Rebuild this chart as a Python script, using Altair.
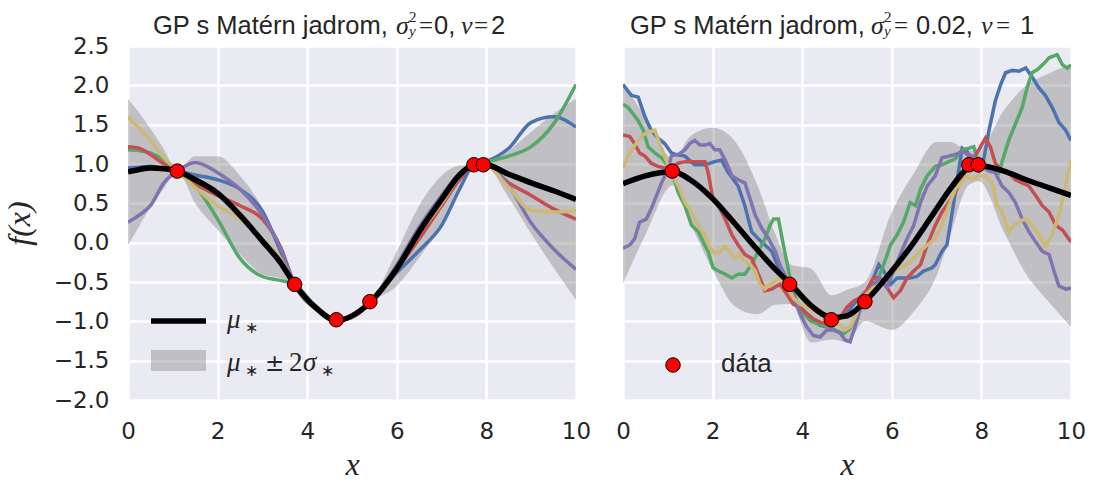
import altair as alt
import pandas as pd

# ---------------- data ----------------
obs_x = [1.1, 3.72, 4.65, 5.4, 7.72, 7.93]
obs_y = [0.91, -0.53, -0.98, -0.75, 0.99, 0.99]

# left panel (smooth, nu=2, noise 0)
left_x = [0, 0.25, 0.5, 0.8, 1.1, 1.5, 2.0, 2.5, 3.0, 3.4, 3.72, 4.2, 4.65, 5.0, 5.4,
          6.0, 6.5, 7.0, 7.4, 7.72, 7.93, 8.5, 9.0, 9.5, 10]
left_mean = [0.9, 0.93, 0.95, 0.94, 0.91, 0.8, 0.63, 0.35, 0.02, -0.25, -0.53, -0.83, -0.99,
             -0.93, -0.76, -0.33, 0.14, 0.55, 0.86, 0.99, 1.0, 0.87, 0.76, 0.66, 0.55]
left_hw = [0.93, 0.72, 0.5, 0.25, 0.0, 0.3, 0.47, 0.5, 0.42, 0.2, 0.0, 0.05, 0.0, 0.03, 0.0,
           0.22, 0.33, 0.3, 0.12, 0.0, 0.0, 0.3, 0.65, 0.98, 1.28]
left_blue = [0.95, 0.96, 0.97, 0.94, 0.91, 0.86, 0.8, 0.68, 0.4, -0.1, -0.53, -0.84, -0.99,
             -0.94, -0.76, -0.38, -0.1, 0.22, 0.68, 0.99, 1.02, 1.2, 1.53, 1.6, 1.47]
left_green = [1.18, 1.17, 1.14, 1.05, 0.91, 0.72, 0.3, -0.2, -0.43, -0.48, -0.53, -0.82, -0.99,
              -0.94, -0.76, -0.3, 0.13, 0.5, 0.83, 0.99, 1.02, 1.1, 1.22, 1.51, 2.01]
left_red = [1.22, 1.2, 1.12, 1.0, 0.91, 0.75, 0.6, 0.47, 0.3, -0.05, -0.53, -0.85, -0.99,
            -0.95, -0.76, -0.34, 0.05, 0.47, 0.8, 0.99, 1.0, 0.76, 0.6, 0.43, 0.3]
left_purple = [0.26, 0.35, 0.47, 0.76, 0.91, 1.02, 0.89, 0.68, 0.35, -0.06, -0.53, -0.85, -0.99,
               -0.95, -0.76, -0.28, 0.2, 0.6, 0.88, 0.99, 1.0, 0.72, 0.25, -0.08, -0.34]
left_yellow = [1.6, 1.45, 1.3, 1.08, 0.91, 0.7, 0.47, 0.3, 0.05, -0.2, -0.53, -0.85, -0.99,
               -0.95, -0.76, -0.3, 0.12, 0.5, 0.84, 0.99, 1.0, 0.7, 0.41, 0.39, 0.41]

# right panel (rough, nu=1, noise 0.02)
right_x = [0, 0.5, 1.12, 1.5, 2.0, 2.5, 3.0, 3.4, 3.75, 4.2, 4.66, 5.0, 5.4, 6.0, 6.5, 7.0,
           7.3, 7.71, 7.94, 8.5, 9.0, 9.5, 10]
right_mean = [0.75, 0.85, 0.9, 0.8, 0.56, 0.24, -0.09, -0.34, -0.53, -0.8, -0.95, -0.93, -0.75,
              -0.36, 0.01, 0.43, 0.68, 0.95, 0.98, 0.91, 0.8, 0.7, 0.6]
right_hw = [1.27, 0.75, 0.17, 0.55, 0.9, 1.05, 0.82, 0.45, 0.25, 0.47, 0.28, 0.33, 0.25, 0.75,
            0.88, 0.85, 0.6, 0.22, 0.2, 0.77, 1.2, 1.45, 1.67]

rb_x = [0, 0.19, 0.34, 0.49, 0.63, 0.78, 0.93, 1.08, 1.19, 1.38, 1.6, 1.83, 2.05, 2.2, 2.35, 2.57,
        2.72, 2.87, 3.02, 3.17, 3.32, 3.5, 3.65, 3.8, 3.95, 4.1, 4.25, 4.4, 4.55, 4.7, 4.85, 5.0,
        5.15, 5.29, 5.44, 5.59, 5.71, 5.82, 5.97, 6.12, 6.26, 6.41, 6.56, 6.71, 6.9, 6.97, 7.12,
        7.23, 7.35, 7.46, 7.57, 7.68, 7.79, 7.94, 8.05, 8.17, 8.31, 8.43, 8.54, 8.69, 8.84, 8.99,
        9.14, 9.28, 9.43, 9.58, 9.73, 9.88, 10]
rb_y = [2.01, 1.87, 1.85, 1.6, 1.43, 1.33, 1.26, 1.14, 1.12, 1.1, 0.99, 0.99, 1.03, 1.05, 0.89, 0.72,
        0.47, 0.14, 0.05, -0.03, -0.11, -0.36, -0.53, -0.65, -0.82, -0.9, -0.99, -1.05, -1.07,
        -1.03, -0.95, -0.9, -0.78, -0.7, -0.61, -0.45, -0.28, -0.36, -0.53, -0.45, -0.45, -0.45,
        -0.43, -0.36, -0.32, -0.28, -0.11, -0.03, 0.39, 0.8, 1.2, 1.16, 0.97, 0.91, 1.05, 1.43, 1.8,
        2.01, 2.16, 2.19, 2.18, 2.22, 2.1, 1.97, 1.87, 1.72, 1.53, 1.43, 1.3]

rg_x = [0, 0.11, 0.22, 0.34, 0.45, 0.56, 0.71, 0.86, 1.01, 1.12, 1.23, 1.38, 1.53, 1.68, 1.79, 1.9,
        2.01, 2.13, 2.28, 2.43, 2.57, 2.72, 2.87, 3.02, 3.17, 3.28, 3.36, 3.47, 3.58, 3.73, 3.88,
        4.03, 4.18, 4.33, 4.47, 4.62, 4.77, 4.92, 5.07, 5.22, 5.37, 5.52, 5.67, 5.82, 5.97, 6.12,
        6.26, 6.41, 6.53, 6.64, 6.79, 6.97, 7.12, 7.27, 7.42, 7.57, 7.72, 7.83, 7.94, 8.17, 8.39,
        8.5, 8.61, 8.76, 8.91, 9.02, 9.13, 9.25, 9.4, 9.51, 9.69, 9.81, 9.92, 10]
rg_y = [1.76, 1.72, 1.64, 1.55, 1.43, 1.22, 1.14, 1.08, 0.97, 0.85, 0.64, 0.47, 0.22, 0.14, 0.01,
        -0.11, -0.32, -0.36, -0.4, -0.45, -0.4, -0.4, -0.28, -0.11, 0.05, 0.22, 0.3, 0.3, -0.03,
        -0.45, -0.78, -0.9, -0.99, -1.03, -1.05, -1.07, -1.12, -1.16, -1.09, -0.9, -0.74, -0.57,
        -0.49, -0.28, -0.03, 0.1, 0.26, 0.51, 0.47, 0.68, 0.85, 0.97, 0.99, 1.03, 1.07, 1.18, 1.2,
        1.22, 1.01, 0.97, 0.89, 1.1, 1.3, 1.51, 1.72, 1.97, 2.16, 2.2, 2.28, 2.35, 2.39, 2.26, 2.22,
        2.26]

rr_x = [0, 0.15, 0.26, 0.37, 0.49, 0.63, 0.78, 0.93, 1.08, 1.23, 1.38, 1.6, 1.83, 1.9, 2.01, 2.13,
        2.28, 2.43, 2.57, 2.72, 2.87, 3.02, 3.17, 3.32, 3.5, 3.65, 3.8, 3.95, 4.1, 4.25, 4.4, 4.55,
        4.7, 4.85, 5.0, 5.15, 5.29, 5.44, 5.59, 5.74, 5.89, 6.04, 6.19, 6.34, 6.49, 6.64, 6.79,
        6.97, 7.12, 7.27, 7.42, 7.57, 7.72, 7.94, 8.09, 8.2, 8.31, 8.46, 8.61, 8.76, 8.91, 9.06,
        9.21, 9.36, 9.51, 9.66, 9.81, 10]
rr_y = [1.37, 1.35, 1.26, 1.14, 1.1, 1.01, 0.97, 0.95, 0.95, 1.01, 1.03, 1.03, 1.03, 0.89, 0.55,
        0.47, 0.3, 0.1, -0.03, -0.15, -0.2, -0.4, -0.61, -0.59, -0.53, -0.65, -0.78, -0.82, -0.9,
        -0.97, -1.01, -1.03, -1.03, -0.95, -0.82, -0.74, -0.7, -0.61, -0.45, -0.45, -0.57, -0.7,
        -0.61, -0.45, -0.36, -0.28, -0.03, 0.22, 0.39, 0.51, 0.64, 0.85, 0.97, 1.18, 1.33, 1.22,
        1.01, 0.91, 0.89, 0.8, 0.76, 0.72, 0.6, 0.47, 0.39, 0.22, 0.16, 0.01]

rp_x = [0, 0.15, 0.26, 0.37, 0.52, 0.63, 0.75, 0.86, 0.97, 1.08, 1.23, 1.38, 1.49, 1.6, 1.72, 1.83,
        1.94, 2.05, 2.16, 2.28, 2.43, 2.57, 2.72, 2.84, 2.95, 3.1, 3.25, 3.4, 3.5, 3.65, 3.8, 3.95,
        4.1, 4.25, 4.4, 4.55, 4.7, 4.85, 4.96, 5.07, 5.18, 5.29, 5.44, 5.59, 5.74, 5.89, 6.04,
        6.19, 6.34, 6.49, 6.64, 6.79, 6.97, 7.12, 7.27, 7.42, 7.57, 7.72, 7.87, 8.02, 8.17, 8.31,
        8.46, 8.61, 8.76, 8.91, 9.06, 9.21, 9.36, 9.51, 9.62, 9.73, 9.88, 10]
rp_y = [-0.07, -0.03, 0.05, 0.26, 0.3, 0.43, 0.6, 0.76, 0.89, 1.1, 1.12, 1.18, 1.26, 1.3, 1.24,
        1.24, 1.26, 1.18, 1.18, 1.05, 0.85, 0.8, 0.76, 0.55, 0.35, 0.18, 0.05, -0.11, -0.28, -0.45,
        -0.65, -0.9, -1.07, -1.18, -1.2, -1.11, -1.11, -1.15, -1.24, -1.26, -1.07, -0.86, -0.7,
        -0.53, -0.45, -0.57, -0.36, -0.15, 0.05, 0.22, 0.51, 0.72, 0.85, 1.08, 1.1, 1.12, 1.16,
        1.12, 1.08, 0.97, 0.91, 0.89, 0.72, 0.64, 0.51, 0.3, 0.14, 0.01, -0.11, -0.15, -0.36,
        -0.55, -0.59, -0.58]

ry_x = [0, 0.11, 0.22, 0.34, 0.45, 0.6, 0.71, 0.82, 0.93, 1.04, 1.16, 1.27, 1.38, 1.49, 1.6, 1.72,
        1.83, 1.94, 2.05, 2.16, 2.28, 2.39, 2.5, 2.61, 2.72, 2.84, 2.95, 3.06, 3.17, 3.28, 3.4,
        3.5, 3.65, 3.8, 3.95, 4.1, 4.25, 4.4, 4.55, 4.7, 4.85, 4.96, 5.07, 5.18, 5.29, 5.44, 5.59,
        5.74, 5.89, 6.04, 6.19, 6.34, 6.49, 6.64, 6.79, 6.97, 7.12, 7.27, 7.42, 7.57, 7.68, 7.79,
        7.94, 8.09, 8.24, 8.35, 8.46, 8.61, 8.72, 8.87, 9.02, 9.13, 9.28, 9.43, 9.58, 9.73, 9.88,
        10]
ry_y = [0.95, 1.1, 1.2, 1.3, 1.37, 1.41, 1.43, 1.26, 1.1, 0.93, 0.8, 0.68, 0.51, 0.43, 0.3, 0.18,
        0.1, -0.07, -0.13, -0.11, -0.05, -0.11, -0.2, -0.15, -0.24, -0.28, -0.36, -0.53, -0.59,
        -0.53, -0.49, -0.45, -0.53, -0.7, -0.78, -0.82, -0.86, -0.9, -0.99, -1.01, -1.05, -1.11,
        -1.07, -0.95, -0.78, -0.65, -0.57, -0.53, -0.45, -0.36, -0.32, -0.28, -0.2, -0.11, -0.03,
        0.05, 0.22, 0.47, 0.68, 0.78, 0.85, 0.8, 0.85, 0.85, 0.76, 0.47, 0.39, 0.14, 0.22, 0.28,
        0.3, 0.22, 0.1, -0.05, 0.1, 0.35, 0.72, 1.05]

x_ticks = [0, 2, 4, 6, 8, 10]
y_ticks = [-2.0, -1.5, -1.0, -0.5, 0.0, 0.5, 1.0, 1.5, 2.0, 2.5]
series_names = ["s0", "s1", "s2", "s3", "s4"]
series_colors = ["#4C72B0", "#55A868", "#C44E52", "#8172B2", "#CCB974"]

# ---------------- style ----------------
SANS = "DejaVu Sans"
ARIAL = "Liberation Sans"
SERIF = "Liberation Serif"
TXT = "#262626"
W, H = 448, 354

xscale = alt.Scale(domain=[0, 10], nice=False, zero=False)
yscale = alt.Scale(domain=[-2.0, 2.5], nice=False, zero=False)

common_axis = dict(ticks=False, tickSize=0, domain=False, grid=True, gridColor="white",
                   gridWidth=2.5, labelFont=SANS, labelFontSize=23, labelColor=TXT,
                   labelFlush=False, labelOverlap=False, titleFont=SERIF,
                   titleFontStyle="italic", titleFontWeight="normal", titleColor=TXT)

xaxis = alt.Axis(values=x_ticks, format="d", title="x", titleFontSize=32, titlePadding=6,
                 labelPadding=20, **common_axis)
yaxis_left = alt.Axis(values=y_ticks, format=".1f", title="f(x)", titleFontSize=32,
                      titlePadding=17, labelPadding=19, **common_axis)
yaxis_right = alt.Axis(values=y_ticks, labels=False, ticks=False, domain=False, title=None,
                       grid=True, gridColor="white", gridWidth=2.5, minExtent=0)


def band_df(xs, mean, hw):
    return pd.DataFrame({"x": xs, "lo": [m - h for m, h in zip(mean, hw)],
                         "hi": [m + h for m, h in zip(mean, hw)]})


def txt(s, x, y, size, font=ARIAL, style="normal"):
    return alt.Chart(pd.DataFrame({"d": [0]})).mark_text(
        text=s, font=font, fontSize=size, fontStyle=style, align="left",
        baseline="alphabetic", color=TXT).encode(x=alt.value(x), y=alt.value(y))


def panel(xs, mean, hw, samples_df, interp, yaxis, extra):
    X = alt.X("x:Q", scale=xscale, axis=xaxis)
    band = alt.Chart(band_df(xs, mean, hw)).mark_area(
        color="#808080", opacity=0.4, interpolate="monotone", clip=True).encode(
        x=X, y=alt.Y("lo:Q", scale=yscale, axis=yaxis), y2="hi:Q")
    lines = alt.Chart(samples_df).mark_line(strokeWidth=3.5, interpolate=interp, clip=True).encode(
        x=X, y=alt.Y("y:Q", scale=yscale, axis=yaxis),
        color=alt.Color("series:N", scale=alt.Scale(domain=series_names, range=series_colors),
                        legend=None),
        detail="series:N")
    mline = alt.Chart(pd.DataFrame({"x": xs, "y": mean})).mark_line(
        color="black", strokeWidth=5.5, interpolate="monotone", clip=True).encode(
        x=X, y=alt.Y("y:Q", scale=yscale, axis=yaxis))
    pts = alt.Chart(pd.DataFrame({"x": obs_x, "y": obs_y})).mark_circle(
        color="#FF0000", stroke="black", strokeWidth=1, size=210, opacity=1).encode(
        x=X, y=alt.Y("y:Q", scale=yscale, axis=yaxis))
    return alt.layer(band, lines, mline, pts, *extra).properties(width=W, height=H)


rows = []
for name, ys in zip(series_names, [left_blue, left_green, left_red, left_purple, left_yellow]):
    for xv, yv in zip(left_x, ys):
        rows.append({"series": name, "x": xv, "y": yv})
left_samples = pd.DataFrame(rows)

rows = []
for name, xs_, ys_ in zip(series_names, [rb_x, rg_x, rr_x, rp_x, ry_x],
                          [rb_y, rg_y, rr_y, rp_y, ry_y]):
    for xv, yv in zip(xs_, ys_):
        rows.append({"series": name, "x": xv, "y": yv})
right_samples = pd.DataFrame(rows)

left_extra = [
    txt("GP s Matérn jadrom,", 25, -12, 25.5),
    txt("σ", 268, -12, 26, SERIF, "italic"),
    txt("2", 281, -24, 15, SERIF),
    txt("y", 281, -10, 15, SERIF, "italic"),
    txt("=", 291, -12, 25, SERIF),
    txt("0,", 306, -12, 25.5),
    txt("ν", 333, -12, 26, SERIF, "italic"),
    txt("=", 346, -12, 25, SERIF),
    txt("2", 363, -12, 25.5),
    alt.Chart(pd.DataFrame({"d": [0]})).mark_rule(color="black", strokeWidth=5.5).encode(
        x=alt.value(23), x2=alt.value(78), y=alt.value(275)),
    alt.Chart(pd.DataFrame({"d": [0]})).mark_rect(color="#808080", opacity=0.4).encode(
        x=alt.value(23), x2=alt.value(78), y=alt.value(304), y2=alt.value(325)),
    txt("μ", 99, 282, 27, SERIF, "italic"),
    txt("∗", 117, 287, 16, SANS),
    txt("μ", 99, 325, 27, SERIF, "italic"),
    txt("∗", 117, 330, 16, SANS),
    txt("±", 137, 325, 23, SANS),
    txt("2", 161, 325, 27, SERIF),
    txt("σ", 175, 325, 27, SERIF, "italic"),
    txt("∗", 193, 330, 16, SANS),
]

right_extra = [
    txt("GP s Matérn jadrom,", 7, -12, 25.5),
    txt("σ", 248, -12, 26, SERIF, "italic"),
    txt("2", 261, -24, 15, SERIF),
    txt("y", 261, -10, 15, SERIF, "italic"),
    txt("=", 271, -12, 25, SERIF),
    txt("0.02,", 293, -12, 25.5),
    txt("ν", 358, -12, 26, SERIF, "italic"),
    txt("=", 373, -12, 25, SERIF),
    txt("1", 397, -12, 25.5),
    alt.Chart(pd.DataFrame({"d": [0]})).mark_circle(
        color="#FF0000", stroke="black", strokeWidth=1, size=210, opacity=1).encode(
        x=alt.value(50), y=alt.value(319)),
    txt("dáta", 98, 326, 26),
]

left = panel(left_x, left_mean, left_hw, left_samples, "monotone", yaxis_left, left_extra)
right = panel(right_x, right_mean, right_hw, right_samples, "linear", yaxis_right, right_extra)

chart = alt.hconcat(left, right, spacing=24).properties(
    padding={"left": 3, "top": 10, "right": 0, "bottom": 0},
    background="white",
).configure_view(fill="#EAEAF2", stroke=None)

chart.save("out.html", embed_options={"renderer": "svg", "actions": False})
